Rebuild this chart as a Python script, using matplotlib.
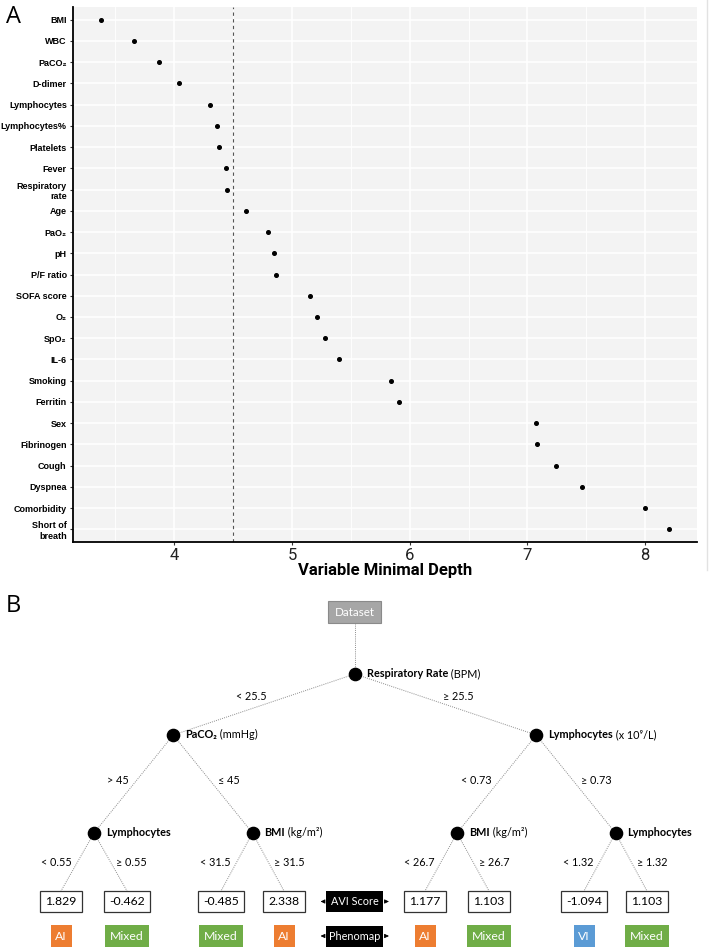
import matplotlib
matplotlib.use('Agg')
import matplotlib.pyplot as plt
from matplotlib.patches import Rectangle
from matplotlib.lines import Line2D

# --- panel A data: minimal depth of each variable ---
variables = ['BMI', 'WBC', 'PaCO₂', 'D-dimer', 'Lymphocytes', 'Lymphocytes%',
             'Platelets', 'Fever', 'Respiratory\nrate', 'Age', 'PaO₂', 'pH',
             'P/F ratio', 'SOFA score', 'O₂', 'SpO₂', 'IL-6', 'Smoking',
             'Ferritin', 'Sex', 'Fibrinogen', 'Cough', 'Dyspnea',
             'Comorbidity', 'Short of\nbreath']
depth = [3.38, 3.66, 3.87, 4.04, 4.30, 4.36, 4.38, 4.44, 4.45, 4.61, 4.80,
         4.85, 4.86, 5.15, 5.21, 5.28, 5.40, 5.84, 5.91, 7.07, 7.08, 7.24,
         7.46, 8.00, 8.20]
threshold = 4.5
x_ticks = [4, 5, 6, 7, 8]

# --- panel B data: decision tree ---
root_split = ('Respiratory Rate', ' (BPM)')
level1_splits = [('PaCO₂', ' (mmHg)'), ('Lymphocytes', ' (x 10⁹/L)')]
level2_splits = [('Lymphocytes', ''), ('BMI', ' (kg/m²)'),
                 ('BMI', ' (kg/m²)'), ('Lymphocytes', '')]
root_cuts = ('< 25.5', '≥ 25.5')
level1_cuts = [('> 45', '≤ 45'), ('< 0.73', '≥ 0.73')]
level2_cuts = [('< 0.55', '≥ 0.55'), ('< 31.5', '≥ 31.5'),
               ('< 26.7', '≥ 26.7'), ('< 1.32', '≥ 1.32')]
avi_scores = ['1.829', '-0.462', '-0.485', '2.338', '1.177', '1.103', '-1.094', '1.103']
phenomaps = ['AI', 'Mixed', 'Mixed', 'AI', 'AI', 'Mixed', 'VI', 'Mixed']
pheno_colors = {'AI': '#ED7D31', 'Mixed': '#70AD47', 'VI': '#5B9BD5'}

W, H = 709, 949
fig = plt.figure(figsize=(W / 100, H / 100), dpi=100)

# ================= panel A =================
ax = fig.add_axes([73 / W, 1 - 542 / H, (697 - 73) / W, (542 - 7) / H])
ax.set_facecolor('#F3F3F3')
ypos = list(range(len(variables)))
span = max(depth) - min(depth)
ax.set_xlim(min(depth) - 0.05 * span, max(depth) + 0.05 * span)
ax.set_ylim(len(variables) - 1 + 0.6, -0.6)

# ggplot-like grid
for v in [3.5, 4.5, 5.5, 6.5, 7.5]:
    ax.axvline(v, color='white', lw=0.6, zorder=0)
for v in x_ticks:
    ax.axvline(v, color='white', lw=1.2, zorder=0)
for y in ypos:
    ax.axhline(y, color='white', lw=1.2, zorder=0)

ax.axvline(threshold, color='#555555', lw=0.8, ls=(0, (3, 3)), zorder=1)
ax.plot(depth, ypos, 'o', color='black', ms=2.6, zorder=3)

ax.set_yticks(ypos)
ax.set_yticklabels(variables, fontsize=6.5, fontweight='bold',
                   family=['Liberation Sans', 'DejaVu Sans'], linespacing=1.2)
ax.set_xticks(x_ticks)
ax.set_xticklabels([str(v) for v in x_ticks], fontsize=12, family='Roboto',
                   color='#222222')
ax.tick_params(axis='both', length=2.5, width=0.8, color='#333333', pad=2)
ax.set_xlabel('Variable Minimal Depth', fontsize=12, fontweight='bold',
              family='Roboto', labelpad=0)
for s in ['top', 'right']:
    ax.spines[s].set_visible(False)
for s in ['left', 'bottom']:
    ax.spines[s].set_linewidth(1.3)
    ax.spines[s].set_color('black')

fig.text(6 / W, 1 - 17 / H, 'A', fontsize=17, va='center', ha='left', family='Open Sans')
fig.add_artist(Line2D([707 / W, 707 / W], [1 - 570 / H, 1], color='#E2E2E2', lw=1))

# ================= panel B =================
fig.text(6 / W, 1 - 606 / H, 'B', fontsize=17, va='center', ha='left', family='Open Sans')
tx = fig.add_axes([0, 0, 1, (H - 585) / H])
tx.set_xlim(0, W)
tx.set_ylim(H, 585)
tx.axis('off')

fam = ['Lato', 'DejaVu Sans']
fs = 7.8
line_kw = dict(color='#8C8C8C', lw=0.7, ls=(0, (1, 1.2)), zorder=1)

# layout
leaf_x = [61, 127, 221, 284, 425, 489, 584, 647]
level_y = [674, 735, 833]
score_y, pheno_y = 901.5, 936
data_y = 612
lvl2_x = [(leaf_x[2 * i] + leaf_x[2 * i + 1]) / 2 for i in range(4)]
lvl1_x = [(lvl2_x[2 * i] + lvl2_x[2 * i + 1]) / 2 for i in range(2)]
root_x = (lvl1_x[0] + lvl1_x[1]) / 2

# Dataset box
tx.add_patch(Rectangle((root_x - 26.5, data_y - 11), 53, 22, facecolor='#A6A6A6',
                       edgecolor='#8A8A8A', lw=0.8, zorder=2))
tx.text(root_x, data_y, 'Dataset', color='white', fontsize=8.4, family=fam,
        ha='center', va='center', zorder=3)
tx.plot([root_x, root_x], [data_y + 11, level_y[0]], **line_kw)


def node(x, y, split):
    tx.plot(x, y, 'o', color='black', ms=8.8, zorder=3)
    t = tx.text(x + 12, y + 3.2, split[0], fontsize=fs, fontweight='bold',
                family=fam, ha='left', va='baseline')
    if split[1]:
        tx.annotate(split[1], xy=(1, y + 3.2), xycoords=(t, 'data'),
                    fontsize=fs, family=fam, ha='left', va='baseline')


def edges(px, py, cx, cy, cuts, label_y, gap):
    for k, (x2, y2) in enumerate(zip(cx, cy)):
        tx.plot([px, x2], [py, y2], **line_kw)
        f = (label_y - py) / (y2 - py)
        ex = px + f * (x2 - px)
        if k == 0:
            tx.text(ex - gap, label_y, cuts[0], fontsize=fs, family=fam,
                    ha='right', va='center')
        else:
            tx.text(ex + gap, label_y, cuts[1], fontsize=fs, family=fam,
                    ha='left', va='center')


edges(root_x, level_y[0], lvl1_x, [level_y[1]] * 2, root_cuts, 697, 20)
for i in range(2):
    edges(lvl1_x[i], level_y[1], lvl2_x[2 * i:2 * i + 2], [level_y[2]] * 2,
          level1_cuts[i], 780, 8)
for i in range(4):
    edges(lvl2_x[i], level_y[2], leaf_x[2 * i:2 * i + 2], [score_y - 10.5] * 2,
          level2_cuts[i], 862, 6)

node(root_x, level_y[0], root_split)
for i in range(2):
    node(lvl1_x[i], level_y[1], level1_splits[i])
for i in range(4):
    node(lvl2_x[i], level_y[2], level2_splits[i])

# leaves
for x, s, p in zip(leaf_x, avi_scores, phenomaps):
    w = 46 if s.startswith('-') else 42
    tx.add_patch(Rectangle((x - w / 2, score_y - 10.5), w, 21, facecolor='white',
                           edgecolor='#333333', lw=0.9, zorder=2))
    tx.text(x, score_y, s, fontsize=8.8, family=fam, ha='center', va='center', zorder=3)
    pw = 44 if p == 'Mixed' else 21
    tx.add_patch(Rectangle((x - pw / 2, pheno_y - 11), pw, 22,
                           facecolor=pheno_colors[p], edgecolor='none', zorder=2))
    tx.text(x, pheno_y, p, fontsize=8.8, family=fam, color='white',
            ha='center', va='center', zorder=3)

# legend-like black labels with arrows
for label, y in [('AVI Score', score_y), ('Phenomap', pheno_y)]:
    tx.add_patch(Rectangle((root_x - 28.5, y - 10.5), 57, 21, facecolor='black',
                           edgecolor='none', zorder=2))
    tx.text(root_x, y, label, fontsize=7.8, family=fam, color='white',
            ha='center', va='center', zorder=3)
    for d in (-1, 1):
        tx.annotate('', xy=(root_x + d * 37, y), xytext=(root_x + d * 29, y),
                    arrowprops=dict(arrowstyle='-|>,head_length=0.25,head_width=0.12',
                                    color='black', lw=0.6))

fig.savefig('out.png', dpi=100)
